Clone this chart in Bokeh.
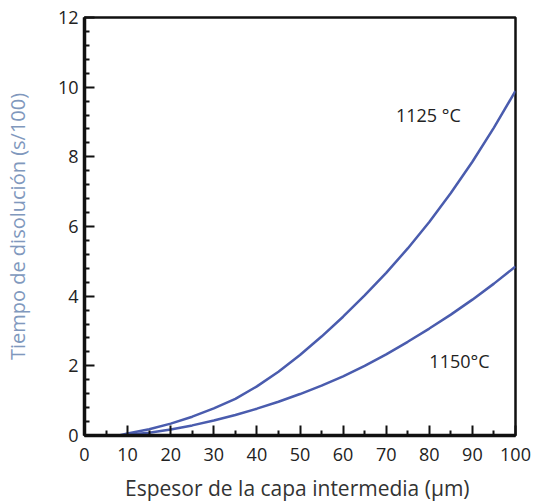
from bokeh.plotting import figure
from bokeh.models import Label, FixedTicker
from bokeh.embed import file_html
from bokeh.resources import INLINE

# Data
x_1125 = [8, 10, 15, 20, 25, 30, 35, 40, 45, 50, 55, 60, 65, 70, 75, 80, 85, 90, 95, 100]
y_1125 = [0.0, 0.06, 0.18, 0.34, 0.54, 0.78, 1.05, 1.41, 1.83, 2.31, 2.84, 3.41, 4.02, 4.67, 5.37, 6.13, 6.96, 7.86, 8.84, 9.89]
x_1150 = [9, 10, 15, 20, 25, 30, 35, 40, 45, 50, 55, 60, 65, 70, 75, 80, 85, 90, 95, 100]
y_1150 = [0.0, 0.02, 0.08, 0.17, 0.29, 0.43, 0.59, 0.77, 0.97, 1.19, 1.43, 1.70, 2.00, 2.33, 2.69, 3.07, 3.47, 3.90, 4.36, 4.85]
x_ticks = [0, 10, 20, 30, 40, 50, 60, 70, 80, 90, 100]
y_ticks = [0, 2, 4, 6, 8, 10, 12]
labels = ["1125 °C", "1150°C"]
label_pos = [(79.8, 9.2), (87, 2.14)]

FONT = "Open Sans"
LINE = "#4a5cae"

p = figure(width=534, height=504, x_range=(0, 100), y_range=(0, 12),
           output_backend="svg", toolbar_location=None,
           min_border_left=84, min_border_right=19, min_border_top=17, min_border_bottom=67)

p.line(x_1125, y_1125, line_color=LINE, line_width=2.5, line_join="round")
p.line(x_1150, y_1150, line_color=LINE, line_width=2.5, line_join="round")

for txt, (lx, ly) in zip(labels, label_pos):
    p.add_layout(Label(x=lx, y=ly, text=txt, text_align="center", text_baseline="middle",
                       text_font=FONT, text_font_size="18px", text_color="#222222"))

p.grid.visible = False
p.outline_line_color = "#111111"
p.outline_line_width = 2.5

p.xaxis.ticker = FixedTicker(ticks=x_ticks, minor_ticks=list(range(5, 100, 10)))
p.yaxis.ticker = FixedTicker(ticks=y_ticks, minor_ticks=[round(i * 0.4, 1) for i in range(31) if i % 5 != 0])

for ax in (p.xaxis[0], p.yaxis[0]):
    ax.axis_line_width = 3.5
    ax.axis_line_color = "#111111"
    ax.major_tick_in = 10
    ax.major_tick_out = 0
    ax.minor_tick_in = 5
    ax.minor_tick_out = 0
    ax.major_tick_line_color = "#111111"
    ax.minor_tick_line_color = "#111111"
    ax.major_tick_line_width = 2
    ax.minor_tick_line_width = 2
    ax.major_label_text_font = FONT
    ax.major_label_text_font_size = "18px"
    ax.major_label_text_color = "#222222"
    ax.axis_label_text_font = FONT
    ax.axis_label_text_font_style = "normal"

p.xaxis.axis_label = "Espesor de  la capa intermedia (µm)"
p.xaxis.axis_label_text_font_size = "21px"
p.xaxis.axis_label_text_color = "#333333"
p.xaxis.major_label_standoff = 12
p.xaxis.axis_label_standoff = 10

p.yaxis.axis_label = "Tiempo de disolución (s/100)"
p.yaxis.axis_label_text_font_size = "20px"
p.yaxis.axis_label_text_color = "#8098bd"
p.yaxis.major_label_standoff = 6
p.yaxis.axis_label_standoff = 24

open("out.html", "w").write(file_html(p, INLINE))
